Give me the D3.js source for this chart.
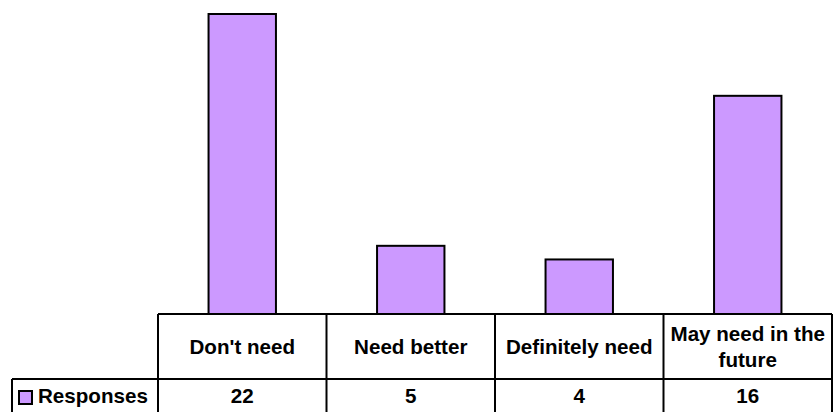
<!DOCTYPE html>
<html>
<head>
<meta charset="utf-8">
<script src="https://cdn.jsdelivr.net/npm/d3@7"></script>
<style>
  body { margin: 0; background: #fff; }
  svg text { font-family: "Liberation Sans", Arial, sans-serif; font-weight: bold; font-size: 20.6px; fill: #000; }
</style>
</head>
<body>
<div id="chart"></div>
<script>
const categories = ["Don't need", "Need better", "Definitely need", "May need in the future"];
const responses = [22, 5, 4, 16];
const seriesName = "Responses";

const width = 834, height = 412;
const tableLeft = 158, tableRight = 832, legendLeft = 12;
const baseY = 314, rowY = 379, bottomY = 413;
const barColor = "#CC99FF";

const svg = d3.select("#chart").append("svg")
  .attr("width", width).attr("height", height);

const x = d3.scaleBand().domain(categories).range([tableLeft, tableRight]).padding(0);
const y = d3.scaleLinear().domain([0, 22]).range([baseY, 14]);
const barW = x.bandwidth() * 0.4;

// bars
svg.append("g").selectAll("rect")
  .data(categories)
  .enter().append("rect")
  .attr("x", (d) => x(d) + (x.bandwidth() - barW) / 2)
  .attr("y", (d, i) => y(responses[i]))
  .attr("width", barW)
  .attr("height", (d, i) => y(0) - y(responses[i]))
  .attr("fill", barColor)
  .attr("stroke", "#000")
  .attr("stroke-width", 2);

// data table grid
const grid = svg.append("g").attr("stroke", "#000").attr("stroke-width", 2).attr("fill", "none");
grid.append("line").attr("x1", tableLeft).attr("x2", tableRight).attr("y1", baseY).attr("y2", baseY);
grid.append("line").attr("x1", legendLeft).attr("x2", tableRight).attr("y1", rowY).attr("y2", rowY);
grid.append("line").attr("x1", legendLeft).attr("x2", legendLeft).attr("y1", rowY).attr("y2", bottomY);
grid.selectAll(".col")
  .data(categories.concat(["end"]))
  .enter().append("line")
  .attr("x1", (d) => d === "end" ? tableRight : x(d))
  .attr("x2", (d) => d === "end" ? tableRight : x(d))
  .attr("y1", baseY).attr("y2", bottomY);

// header labels, wrapped to the column width
function wrapLines(text, maxW) {
  const probe = svg.append("text");
  const words = text.split(" ");
  const lines = [];
  let line = "";
  words.forEach((w) => {
    const test = line ? line + " " + w : w;
    probe.text(test);
    if (probe.node().getComputedTextLength() > maxW && line) {
      lines.push(line);
      line = w;
    } else {
      line = test;
    }
  });
  lines.push(line);
  probe.remove();
  return lines;
}

const lineH = 26;
const headMid = (baseY + rowY) / 2;
categories.forEach((c) => {
  const lines = wrapLines(c, x.bandwidth() - 6);
  const t = svg.append("text")
    .attr("text-anchor", "middle")
    .attr("x", x(c) + x.bandwidth() / 2);
  lines.forEach((l, i) => {
    t.append("tspan")
      .attr("x", x(c) + x.bandwidth() / 2)
      .attr("y", headMid + 7 + (i - (lines.length - 1) / 2) * lineH)
      .text(l);
  });
});

// value row
const valMid = (rowY + bottomY) / 2;
svg.append("g").selectAll("text")
  .data(categories)
  .enter().append("text")
  .attr("text-anchor", "middle")
  .attr("x", (d) => x(d) + x.bandwidth() / 2)
  .attr("y", valMid + 7)
  .text((d, i) => responses[i]);

// legend key in the table
svg.append("rect")
  .attr("x", 19).attr("y", 391)
  .attr("width", 13).attr("height", 13)
  .attr("fill", barColor)
  .attr("stroke", "#000")
  .attr("stroke-width", 2);
svg.append("text")
  .attr("x", 38).attr("y", valMid + 7)
  .text(seriesName);
</script>
</body>
</html>
